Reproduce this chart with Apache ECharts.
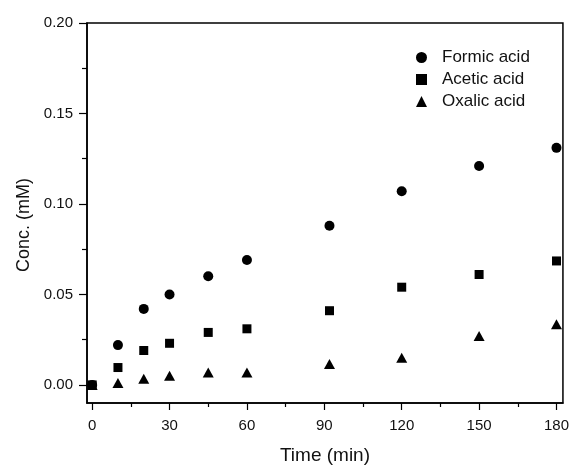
<!DOCTYPE html>
<html>
<head>
<meta charset="utf-8">
<script src="https://cdn.jsdelivr.net/npm/echarts@6/dist/echarts.min.js"></script>
<style>html,body{margin:0;padding:0;background:#fff}#c{width:572px;height:470px}</style>
</head>
<body>
<div id="c"></div>
<script>
const time = [0, 10, 20, 30, 45, 60, 92, 120, 150, 180];
const formic = [0, 0.022, 0.042, 0.050, 0.060, 0.069, 0.088, 0.107, 0.121, 0.131];
const acetic = [0, 0.0096, 0.019, 0.023, 0.029, 0.031, 0.041, 0.054, 0.061, 0.0685];
const oxalic = [0, 0.001, 0.0034, 0.005, 0.0068, 0.0068, 0.0116, 0.015, 0.027, 0.0335];
const xMajor = [0, 30, 60, 90, 120, 150, 180];
const xMinor = [15, 45, 75, 105, 135, 165];
const yMajor = [0, 0.05, 0.10, 0.15, 0.20];
const yMinor = [0.025, 0.075, 0.125, 0.175];
const seriesNames = ['Formic acid', 'Acetic acid', 'Oxalic acid'];

const font = 'Arial, "Liberation Sans", sans-serif';
const pair = arr => time.map((t, i) => [t, arr[i]]);

const chart = echarts.init(document.getElementById('c'), null, {renderer: 'canvas'});
const xBase = {min: -2, max: 182.5, type: 'value', splitLine: {show: false}};
const yBase = {min: -0.01, max: 0.20, type: 'value', splitLine: {show: false}};
const mark = {color: '#000', opacity: 1};
chart.setOption({
  animation: false,
  backgroundColor: '#fff',
  grid: {left: 87, right: 9, top: 23, bottom: 63, show: true, borderColor: '#000', borderWidth: 1.5, containLabel: false},
  legend: {
    orient: 'vertical', left: 411, top: 44, itemGap: 5, itemWidth: 11, itemHeight: 11,
    data: seriesNames,
    textStyle: {fontFamily: font, fontSize: 17, color: '#111', lineHeight: 17, padding: [0, 0, 0, 10]}
  },
  xAxis: [
    Object.assign({}, xBase, {
      position: 'bottom',
      name: 'Time (min)', nameLocation: 'middle', nameGap: 43,
      nameTextStyle: {fontFamily: font, fontSize: 19, color: '#111'},
      axisLine: {show: true, onZero: false, lineStyle: {color: '#000', width: 1.5}},
      axisTick: {show: true, inside: false, length: 7, customValues: xMajor, lineStyle: {color: '#000', width: 1.2}},
      axisLabel: {customValues: xMajor, margin: 15, fontFamily: font, fontSize: 15, color: '#111'}
    }),
    Object.assign({}, xBase, {
      position: 'bottom',
      axisLine: {show: false, onZero: false},
      axisTick: {show: true, inside: false, length: 4, customValues: xMinor, lineStyle: {color: '#000', width: 1.2}},
      axisLabel: {show: false}
    })
  ],
  yAxis: [
    Object.assign({}, yBase, {
      position: 'left',
      name: 'Conc. (mM)', nameLocation: 'middle', nameGap: 54,
      nameTextStyle: {fontFamily: font, fontSize: 18, color: '#111', padding: [0, 24, 0, 0]},
      axisLine: {show: true, onZero: false, lineStyle: {color: '#000', width: 1.5}},
      axisTick: {show: true, inside: false, length: 8, customValues: yMajor, lineStyle: {color: '#000', width: 1.2}},
      axisLabel: {customValues: yMajor, margin: 14, fontFamily: font, fontSize: 15, color: '#111',
        formatter: v => Number(v).toFixed(2)}
    }),
    Object.assign({}, yBase, {
      position: 'left',
      axisLine: {show: false, onZero: false},
      axisTick: {show: true, inside: false, length: 5, customValues: yMinor, lineStyle: {color: '#000', width: 1.2}},
      axisLabel: {show: false}
    })
  ],
  series: [
    {name: seriesNames[0], type: 'scatter', symbol: 'circle', symbolSize: 10, data: pair(formic), itemStyle: mark},
    {name: seriesNames[1], type: 'scatter', symbol: 'rect', symbolSize: 9, data: pair(acetic), itemStyle: mark},
    {name: seriesNames[2], type: 'scatter', symbol: 'triangle', symbolSize: [11, 10], data: pair(oxalic), itemStyle: mark, z: 1}
  ]
});
</script>
</body>
</html>
